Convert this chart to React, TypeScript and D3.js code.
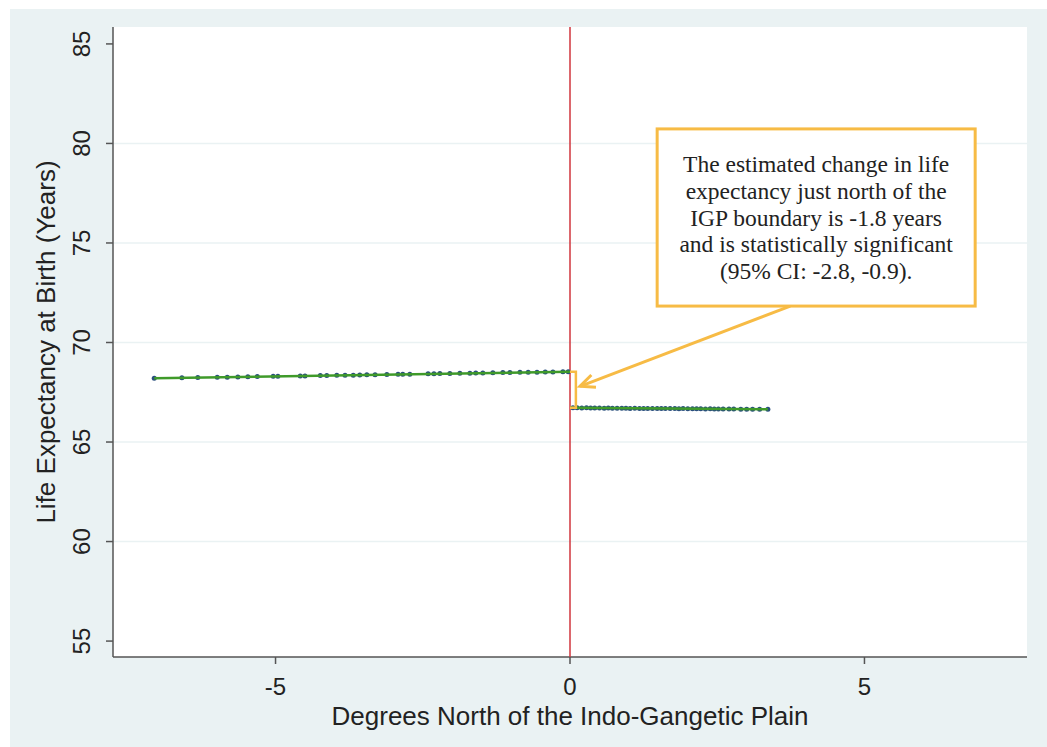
import React from "react";
import * as d3 from "d3";

// valeurs
const yTicks = [55, 60, 65, 70, 75, 80, 85];
const yGrid = [60, 65, 70, 75, 80];
const xTicks = [-5, 0, 5];

const southX = [-7.06, -6.59, -6.32, -5.99, -5.82, -5.64, -5.47, -5.31, -5.04, -4.96, -4.58, -4.5, -4.24, -4.13, -3.96, -3.82, -3.68, -3.57, -3.45, -3.31, -3.11, -2.92, -2.84, -2.72, -2.41, -2.31, -2.21, -2.04, -1.87, -1.7, -1.6, -1.48, -1.31, -1.14, -1.02, -0.85, -0.71, -0.56, -0.42, -0.29, -0.12, -0.03];
const southY = [68.2, 68.23, 68.24, 68.25, 68.26, 68.27, 68.28, 68.29, 68.3, 68.3, 68.32, 68.32, 68.34, 68.34, 68.35, 68.36, 68.36, 68.37, 68.38, 68.38, 68.39, 68.4, 68.41, 68.41, 68.43, 68.43, 68.44, 68.44, 68.45, 68.46, 68.47, 68.47, 68.48, 68.49, 68.49, 68.5, 68.51, 68.51, 68.52, 68.52, 68.53, 68.53];

const northX = [0.05, 0.12, 0.2, 0.28, 0.35, 0.42, 0.5, 0.58, 0.65, 0.72, 0.8, 0.88, 0.95, 1.02, 1.1, 1.18, 1.25, 1.32, 1.4, 1.48, 1.55, 1.62, 1.7, 1.78, 1.85, 1.92, 2.0, 2.08, 2.15, 2.22, 2.3, 2.38, 2.45, 2.52, 2.6, 2.7, 2.78, 2.9, 3.0, 3.1, 3.22, 3.36];
const northY = [66.72, 66.72, 66.71, 66.72, 66.71, 66.71, 66.71, 66.7, 66.71, 66.7, 66.7, 66.7, 66.7, 66.69, 66.7, 66.69, 66.69, 66.69, 66.68, 66.69, 66.68, 66.68, 66.68, 66.68, 66.67, 66.68, 66.67, 66.67, 66.67, 66.67, 66.66, 66.67, 66.66, 66.66, 66.66, 66.66, 66.66, 66.65, 66.65, 66.65, 66.65, 66.65];

const southFit = [[-7.06, 68.2], [0, 68.53]];
const northFit = [[0, 66.72], [3.36, 66.65]];

const noteLines = [
  "The estimated change in life",
  "expectancy just north of the",
  "IGP boundary is -1.8 years",
  "and is statistically significant",
  "(95% CI: -2.8, -0.9).",
];
const noteBox = { x0: 1.48, x1: 6.88, y0: 80.73, y1: 71.83 };
const arrowFrom = [3.74, 71.83];
const arrowTo = [0.17, 67.8];
const bracketX = 0.1;

const W = 1047;
const H = 747;
const plot = { left: 113, right: 1027, top: 27, bottom: 657 };

const x = d3.scaleLinear().domain([-7.76, 7.76]).range([plot.left, plot.right]);
const y = d3.scaleLinear().domain([54.2, 85.85]).range([plot.bottom, plot.top]);

const sans = "'Liberation Sans', Arial, Helvetica, sans-serif";
const serif = "'Liberation Serif', 'Times New Roman', serif";
const orange = "#f7bb45";

export default function App() {
  const line = d3.line<number[]>().x((d) => x(d[0])).y((d) => y(d[1]));

  // flèche
  const ax0 = x(arrowFrom[0]);
  const ay0 = y(arrowFrom[1]);
  const ax1 = x(arrowTo[0]);
  const ay1 = y(arrowTo[1]);
  const ang = Math.atan2(ay1 - ay0, ax1 - ax0);
  const headLen = 16;
  const headA = 0.42;
  const h1 = [ax1 - headLen * Math.cos(ang - headA), ay1 - headLen * Math.sin(ang - headA)];
  const h2 = [ax1 - headLen * Math.cos(ang + headA), ay1 - headLen * Math.sin(ang + headA)];

  const boxCx = (x(noteBox.x0) + x(noteBox.x1)) / 2;
  const boxTop = y(noteBox.y0);

  return (
    <svg width={W} height={H} style={{ position: "absolute", left: 0, top: 0 }}>
      <rect x={10} y={9} width={W - 10} height={H - 9} fill="#eaf2f3" />
      <rect x={plot.left} y={plot.top} width={plot.right - plot.left} height={plot.bottom - plot.top} fill="#ffffff" />

      {yGrid.map((t) => (
        <line key={t} x1={plot.left} x2={plot.right} y1={y(t)} y2={y(t)} stroke="#eaf2f3" strokeWidth={1.5} />
      ))}

      {/* axes */}
      <line x1={plot.left} x2={plot.left} y1={plot.top} y2={plot.bottom} stroke="#555" strokeWidth={1.5} />
      <line x1={plot.left} x2={plot.right} y1={plot.bottom} y2={plot.bottom} stroke="#555" strokeWidth={1.5} />
      {yTicks.map((t) => (
        <g key={t}>
          <line x1={plot.left - 7} x2={plot.left} y1={y(t)} y2={y(t)} stroke="#555" strokeWidth={1.5} />
          <text
            transform={`translate(${plot.left - 23},${y(t)}) rotate(-90)`}
            textAnchor="middle"
            fontFamily={sans}
            fontSize={24}
            fill="#222"
          >
            {t}
          </text>
        </g>
      ))}
      {xTicks.map((t) => (
        <g key={t}>
          <line x1={x(t)} x2={x(t)} y1={plot.bottom} y2={plot.bottom + 7} stroke="#555" strokeWidth={1.5} />
          <text x={x(t)} y={695} textAnchor="middle" fontFamily={sans} fontSize={24} fill="#222">
            {t}
          </text>
        </g>
      ))}
      <text
        transform={`translate(55,${(plot.top + plot.bottom) / 2}) rotate(-90)`}
        textAnchor="middle"
        fontFamily={sans}
        fontSize={26}
        fill="#222"
      >
        Life Expectancy at Birth (Years)
      </text>
      <text x={x(0)} y={725} textAnchor="middle" fontFamily={sans} fontSize={26} fill="#222">
        Degrees North of the Indo-Gangetic Plain
      </text>

      {/* seuil */}
      <line x1={x(0)} x2={x(0)} y1={plot.top} y2={plot.bottom} stroke="#d1343c" strokeWidth={1.5} />

      {/* points */}
      {southX.map((d, i) => (
        <circle key={"s" + i} cx={x(d)} cy={y(southY[i])} r={2.5} fill="#2a4f7d" />
      ))}
      {northX.map((d, i) => (
        <circle key={"n" + i} cx={x(d)} cy={y(northY[i])} r={2.5} fill="#2a4f7d" />
      ))}

      {/* ajustements */}
      <path d={line(southFit) || ""} fill="none" stroke="#3f9a2a" strokeWidth={2.5} />
      <path d={line(northFit) || ""} fill="none" stroke="#3f9a2a" strokeWidth={2.5} />

      {/* accolade */}
      <path
        d={`M${x(0)},${y(southFit[1][1])} H${x(bracketX)} V${y(northFit[0][1])} H${x(0)}`}
        fill="none"
        stroke={orange}
        strokeWidth={2.5}
      />

      {/* flèche */}
      <line x1={ax0} y1={ay0} x2={ax1} y2={ay1} stroke={orange} strokeWidth={3} />
      <polyline points={`${h1[0]},${h1[1]} ${ax1},${ay1} ${h2[0]},${h2[1]}`} fill="none" stroke={orange} strokeWidth={3} />

      {/* encadré */}
      <rect
        x={x(noteBox.x0)}
        y={y(noteBox.y0)}
        width={x(noteBox.x1) - x(noteBox.x0)}
        height={y(noteBox.y1) - y(noteBox.y0)}
        fill="#ffffff"
        stroke={orange}
        strokeWidth={3}
      />
      {noteLines.map((s, i) => (
        <text key={i} x={boxCx} y={boxTop + 43 + i * 26.8} textAnchor="middle" fontFamily={serif} fontSize={23.5} fill="#222">
          {s}
        </text>
      ))}
    </svg>
  );
}
